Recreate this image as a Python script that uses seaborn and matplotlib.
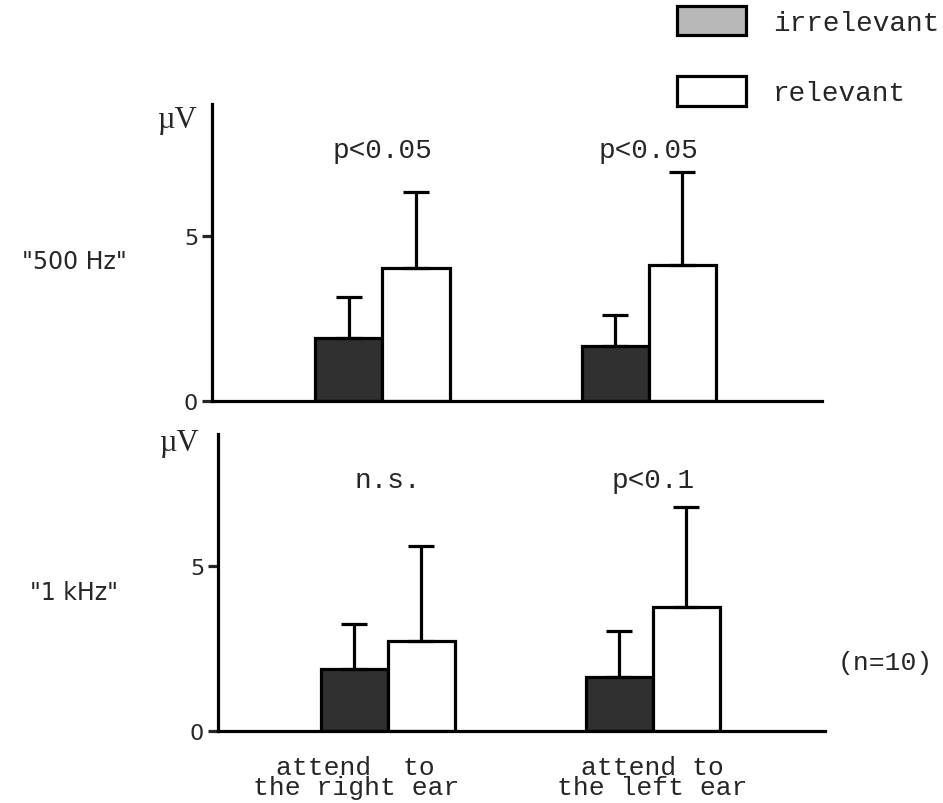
import matplotlib
matplotlib.use("Agg")
import matplotlib.pyplot as plt
from matplotlib.patches import Patch
import seaborn as sns
import pandas as pd
import numpy as np

# ---- data ----
conditions = ["attend to the right ear", "attend to the left ear"]
xlabels = ["attend  to\nthe right ear", "attend to\nthe left ear"]
groups = ["irrelevant", "relevant"]

# "500 Hz" panel
hz500_irrelevant = [1.91, 1.66]
hz500_relevant = [4.03, 4.13]
hz500_irrelevant_sd = [1.24, 0.94]
hz500_relevant_sd = [2.31, 2.82]
hz500_stats = ["p<0.05", "p<0.05"]

# "1 kHz" panel
khz1_irrelevant = [1.90, 1.63]
khz1_relevant = [2.74, 3.75]
khz1_irrelevant_sd = [1.34, 1.41]
khz1_relevant_sd = [2.87, 3.05]
khz1_stats = ["n.s.", "p<0.1"]

panel_names = ['"500 Hz"', '"1 kHz"']

sns.set_style("white")
plt.rcParams["font.family"] = ["Liberation Mono", "DejaVu Sans"]

MONO = "Liberation Mono"
SANS = "DejaVu Sans"
IRR_COLOR = "#303030"
LW = 2.3

fig = plt.figure(figsize=(9.43, 8.04), dpi=100)
ax_top = fig.add_axes([212 / 943, 1 - 401.7 / 804, 610 / 943, 296.7 / 804])
ax_bot = fig.add_axes([218 / 943, 1 - 732.3 / 804, 607 / 943, 297.3 / 804])

panels = [
    (ax_top, hz500_irrelevant, hz500_relevant, hz500_irrelevant_sd, hz500_relevant_sd, hz500_stats),
    (ax_bot, khz1_irrelevant, khz1_relevant, khz1_irrelevant_sd, khz1_relevant_sd, khz1_stats),
]
unit_pos = [(-0.058, 0.947), (-0.064, 0.97)]
name_y = [262, 593]

for i, (ax, irr, rel, irr_sd, rel_sd, stats) in enumerate(panels):
    df = pd.DataFrame({
        "condition": conditions * 2,
        "group": [groups[0]] * 2 + [groups[1]] * 2,
        "value": irr + rel,
        "sd": irr_sd + rel_sd,
    })
    sns.barplot(data=df, x="condition", y="value", hue="group",
                order=conditions, hue_order=groups,
                palette={"irrelevant": IRR_COLOR, "relevant": "white"},
                width=0.505, gap=0, errorbar=None, legend=False,
                edgecolor="black", linewidth=LW, saturation=1, ax=ax)
    # error bars (upper only) from bar patches
    bars = [p for p in ax.patches]
    sds = irr_sd + rel_sd
    vals = irr + rel
    for p, v, s in zip(bars, vals, sds):
        cx = p.get_x() + p.get_width() / 2
        ax.errorbar([cx], [v], yerr=[[0], [s]], fmt="none", ecolor="black",
                    elinewidth=LW, capsize=9.5, capthick=LW, zorder=1)
    ax.set_ylim(0, 9)
    ax.set_xlim(-0.64, 1.65)
    ax.set_yticks([0, 5])
    ax.set_yticklabels(["0", "5"], fontfamily=SANS, fontsize=16)
    ax.tick_params(axis="y", length=7, width=LW, direction="out", pad=3, left=True)
    ax.tick_params(axis="x", length=0, labelbottom=False)
    ax.set_xlabel("")
    ax.set_ylabel("")
    for side in ["top", "right"]:
        ax.spines[side].set_visible(False)
    for side in ["left", "bottom"]:
        ax.spines[side].set_linewidth(LW)
        ax.spines[side].set_color("black")
    # stats labels above each group
    for j, st in enumerate(stats):
        ax.text(j, 7.6, st, ha="center", va="center", fontfamily=MONO, fontsize=20)
    # unit label
    ax.text(unit_pos[i][0], unit_pos[i][1], "\u00b5V", transform=ax.transAxes,
            ha="center", va="center", fontfamily="Liberation Serif", fontsize=22)
    # panel name
    fig.text(74 / 943, 1 - name_y[i] / 804, panel_names[i],
             ha="center", va="center", fontfamily=SANS, fontsize=17)

# x labels under bottom panel
for j, lab in enumerate(xlabels):
    xoff = -0.12 if j == 0 else 0.0
    ax_bot.text(j + xoff, -0.08, lab, transform=ax_bot.get_xaxis_transform(),
                ha="center", va="top", fontfamily=MONO, fontsize=19,
                linespacing=0.8, multialignment="center")

fig.text(885 / 943, 1 - 663 / 804, "(n=10)", ha="center", va="center",
         fontfamily=MONO, fontsize=19)

handles = [Patch(facecolor="#b8b8b8", edgecolor="black", linewidth=LW),
           Patch(facecolor="white", edgecolor="black", linewidth=LW)]
fig.legend(handles, groups, loc="upper left", bbox_to_anchor=(677 / 943, 1 - 7 / 804),
           frameon=False, prop={"family": MONO, "size": 20}, borderpad=0,
           borderaxespad=0, handlelength=2.5, handleheight=1.25,
           labelspacing=1.45, handletextpad=0.95)

fig.savefig("out.png", dpi=100)
